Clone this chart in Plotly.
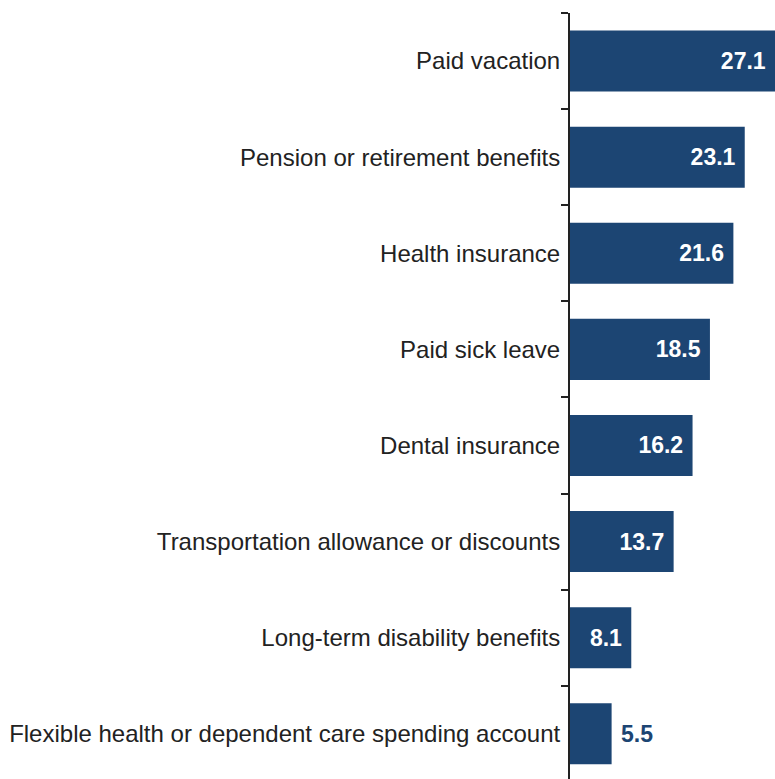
import plotly.graph_objects as go

categories = [
    "Paid vacation",
    "Pension or retirement benefits",
    "Health insurance",
    "Paid sick leave",
    "Dental insurance",
    "Transportation allowance or discounts",
    "Long-term disability benefits",
    "Flexible health or dependent care spending account",
]
values = [27.1, 23.1, 21.6, 18.5, 16.2, 13.7, 8.1, 5.5]
label_positions = ["inside"] * 7 + ["outside"]

BAR = "#1c4573"
INK = "#222222"
NB = "\u00a0"

labels = [
    (f"{v:.1f}{NB}" if p == "inside" else f"{NB}{v:.1f}")
    for v, p in zip(values, label_positions)
]

fig = go.Figure(
    go.Bar(
        x=values,
        y=categories,
        orientation="h",
        marker=dict(color=BAR, line=dict(width=0)),
        text=labels,
        textposition=label_positions,
        insidetextanchor="end",
        insidetextfont=dict(family="Liberation Sans, Arial, sans-serif", size=23, color="white", weight="bold"),
        outsidetextfont=dict(family="Liberation Sans, Arial, sans-serif", size=23, color=BAR, weight="bold"),
        textangle=0,
        cliponaxis=False,
        hoverinfo="skip",
    )
)

fig.update_layout(
    width=775,
    height=779,
    margin=dict(l=570, r=0, t=13, b=0),
    paper_bgcolor="white",
    plot_bgcolor="white",
    bargap=0.365,
    showlegend=False,
)

fig.update_xaxes(
    range=[0, 27.1],
    visible=False,
    showgrid=False,
    zeroline=False,
)

fig.update_yaxes(
    type="category",
    categoryorder="array",
    categoryarray=categories,
    range=[7.47, -0.5],
    autorange=False,
    showline=True,
    linecolor=INK,
    linewidth=2,
    ticks="outside",
    tickson="boundaries",
    ticklen=7,
    tickwidth=1.5,
    tickcolor=INK,
    ticklabelstandoff=3,
    showgrid=False,
    zeroline=False,
    tickfont=dict(family="Liberation Sans, Arial, sans-serif", size=24, color=INK),
)

fig.write_html("out.html")
